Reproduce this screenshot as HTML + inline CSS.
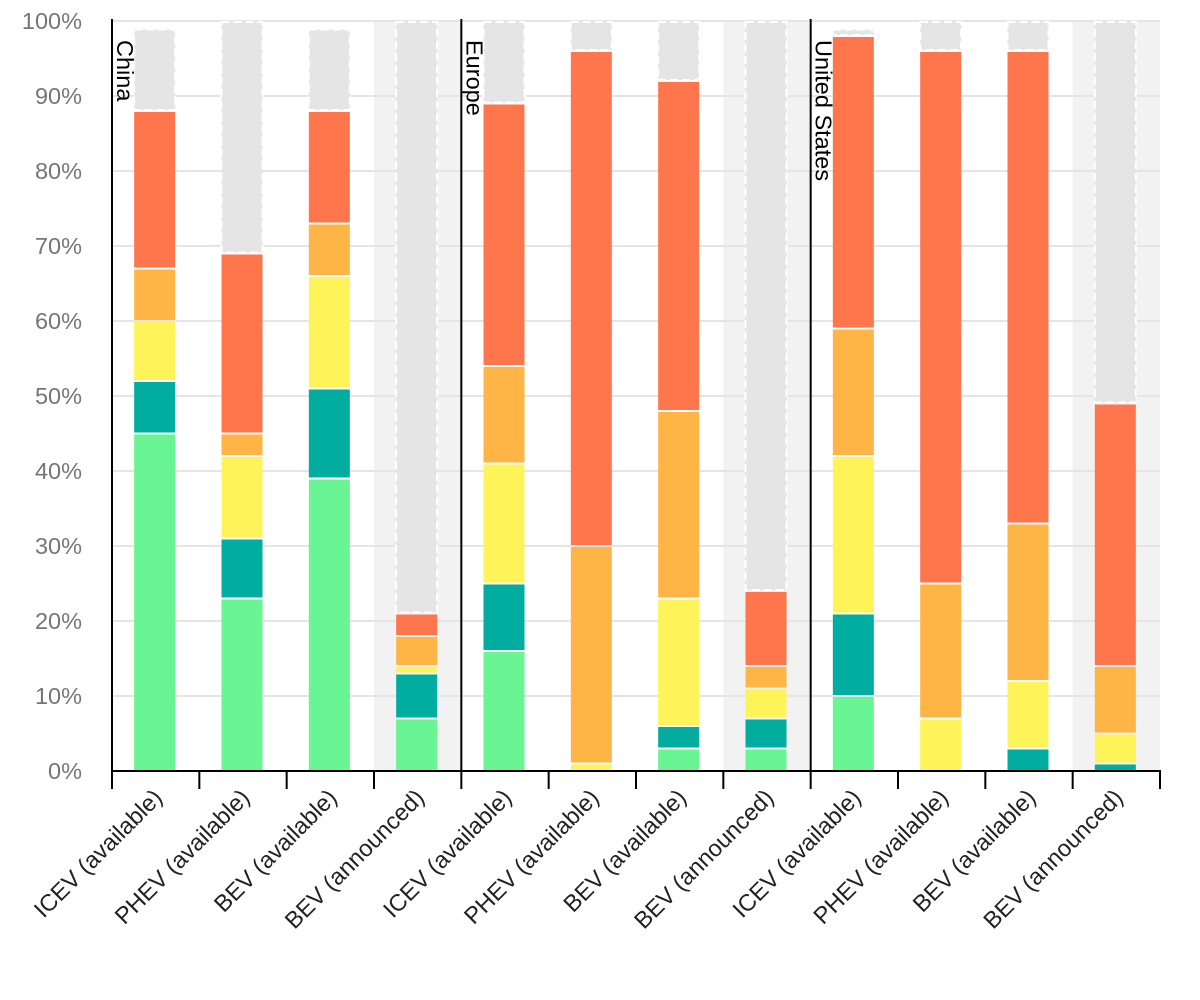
<!DOCTYPE html>
<html><head><meta charset="utf-8"><style>
body{margin:0;background:#fff;}
svg{display:block;font-family:"Liberation Sans",Arial,sans-serif;}
</style></head><body>
<svg id="chart" width="1200" height="1000" viewBox="0 0 1200 1000"></svg>
<script>
const categories=["ICEV (available)","PHEV (available)","BEV (available)","BEV (announced)","ICEV (available)","PHEV (available)","BEV (available)","BEV (announced)","ICEV (available)","PHEV (available)","BEV (available)","BEV (announced)"];
const regions=["China","Europe","United States"];
const seriesGreen=[45,23,39,7,16,0,3,3,10,0,0,0];
const seriesTeal=[7,8,12,6,9,0,3,4,11,0,3,1];
const seriesYellow=[8,11,15,1,16,1,17,4,21,7,9,4];
const seriesOrange=[7,3,7,4,13,29,25,3,17,18,21,9];
const seriesRed=[21,24,15,3,35,66,44,10,39,71,63,35];
const seriesGray=[11,31,11,79,11,4,8,76,1,4,4,51];
const yTicks=[0,10,20,30,40,50,60,70,80,90,100];
const colors=["#69f593","#00ad9f","#fff35a","#ffb545","#ff754c","#e5e5e5"];
const names=["green","teal","yellow","orange","red","gray"];
const series=[seriesGreen,seriesTeal,seriesYellow,seriesOrange,seriesRed,seriesGray];
const NS="http://www.w3.org/2000/svg";
const svg=document.getElementById("chart");
const X0=112,X1=1160,Y0=771,Y1=21;
const slot=(X1-X0)/categories.length;
const y=v=>Y0-(v/100)*(Y0-Y1);
const xc=i=>X0+slot*(i+0.5);
function mk(t,a){const e=document.createElementNS(NS,t);for(const k in a)e.setAttribute(k,a[k]);svg.appendChild(e);return e;}
categories.forEach((c,i)=>{if(c.indexOf("announced")>=0){const r=mk("rect",{x:X0+slot*i,y:Y1,width:slot,height:Y0-Y1,fill:"#f2f2f2"});

}});
yTicks.forEach(t=>{const l=mk("line",{x1:X0,x2:X1,y1:y(t),y2:y(t),stroke:"#e5e5e5","stroke-width":2});


const tx=mk("text",{x:82,y:y(t)+8,"text-anchor":"end","font-size":23.5,fill:"#767676"});tx.textContent=t+"%";

});
const bw=41;
categories.forEach((c,i)=>{let cum=0;series.forEach((s,k)=>{const v=s[i];if(v<=0){return;}
const top=y(cum+v),bot=y(cum);
const r=mk("rect",{x:xc(i)-bw/2-1,y:top+1,width:bw,height:Math.max(0,bot-top-2),fill:colors[k]});
if(k==5){r.setAttribute("stroke","#fff");r.setAttribute("stroke-width","2");r.setAttribute("stroke-dasharray","8,4");}


cum+=v;});});
[4,8].forEach(i=>{const l=mk("line",{x1:X0+slot*i,x2:X0+slot*i,y1:Y1-2,y2:Y0,stroke:"#000","stroke-width":2});

});
const l0=mk("line",{x1:X0,x2:X0,y1:Y1-2,y2:Y0,stroke:"#000","stroke-width":2});


regions.forEach((r,j)=>{const x=X0+slot*4*j+5;const t=mk("text",{x:x,y:40,"font-size":23.5,fill:"#000",transform:`rotate(90 ${x} 40)`});t.textContent=r;

});
const ax=mk("line",{x1:X0-1,x2:X1+1,y1:Y0,y2:Y0,stroke:"#000","stroke-width":2});


for(let i=0;i<=categories.length;i++){const tk=mk("line",{x1:X0+slot*i,x2:X0+slot*i,y1:Y0,y2:Y0+18,stroke:"#000","stroke-width":2});

}
categories.forEach((c,i)=>{const x=xc(i)+8,yy=Y0+28;const t=mk("text",{x:x,y:yy,"text-anchor":"end","font-size":23.5,fill:"#222",transform:`rotate(-45 ${x} ${yy})`});t.textContent=c;

});
</script>
</body></html>
